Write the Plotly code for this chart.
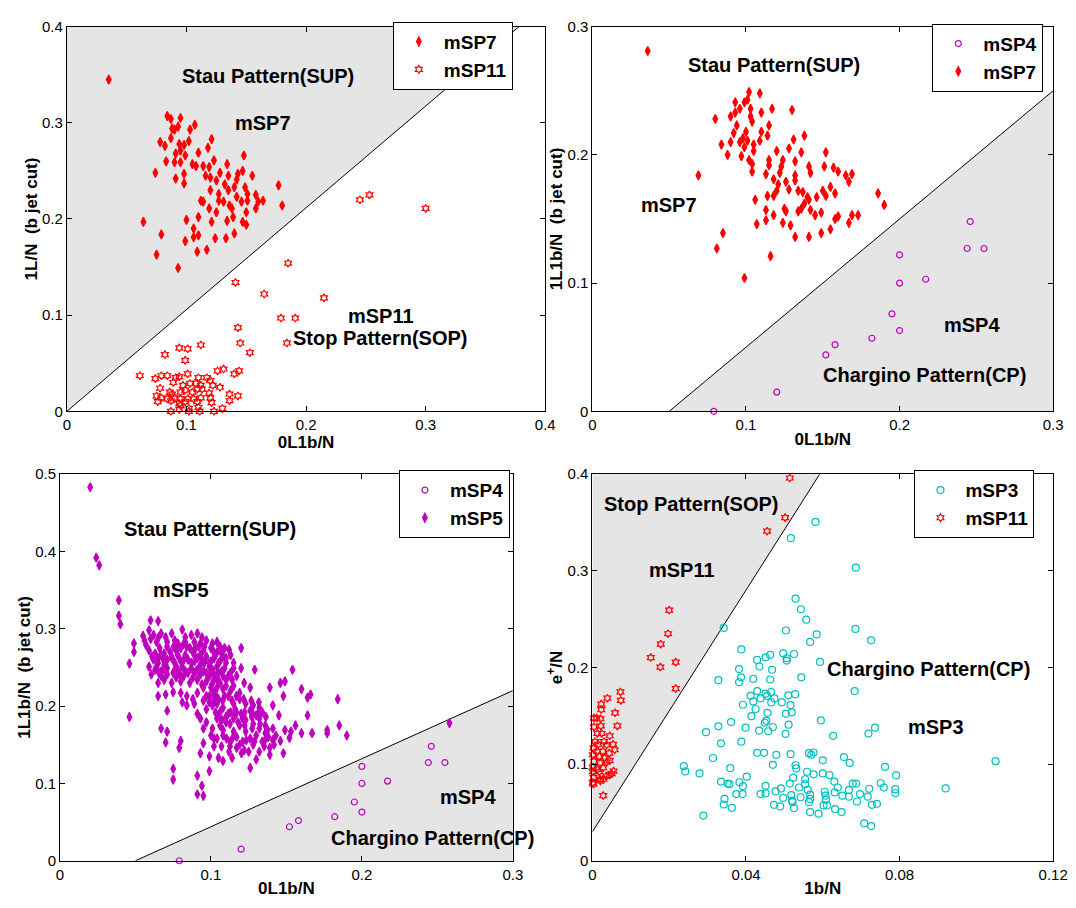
import plotly.graph_objects as go

# ---------------- data ----------------
# Panel 1: 0L1b/N vs 1L/N (b jet cut)
P1_MSP7 = [(.035,.345),(.084,.307),(.087,.304),(.095,.305),(.107,.298),(.088,.294),(.093,.296),(.103,.293),
           (.090,.293),(.121,.283),(.078,.280),(.087,.284),(.082,.276),(.094,.278),(.098,.277),(.102,.281),
           (.118,.274),(.095,.271),(.091,.268),(.099,.266),(.110,.269),(.148,.266),(.083,.260),(.090,.259),
           (.095,.259),(.105,.257),(.108,.255),(.114,.255),(.119,.254),(.123,.261),(.134,.257),(.074,.248),
           (.098,.247),(.091,.242),(.098,.237),(.116,.245),(.120,.243),(.128,.248),(.135,.245),(.143,.247),
           (.147,.250),(.155,.245),(.125,.240),(.132,.236),(.142,.241),(.120,.230),(.127,.226),(.135,.230),
           (.140,.233),(.149,.233),(.151,.226),(.158,.225),(.164,.219),(.177,.235),(.112,.219),(.114,.218),
           (.127,.219),(.131,.218),(.136,.214),(.142,.223),(.146,.218),(.151,.219),(.160,.218),(.119,.211),
           (.125,.207),(.138,.211),(.139,.202),(.150,.207),(.158,.211),(.180,.214),(.064,.197),(.100,.199),
           (.110,.202),(.121,.197),(.134,.198),(.147,.197),(.150,.194),(.106,.190),(.079,.184),(.110,.183),
           (.124,.180),(.133,.180),(.140,.185),(.106,.181),(.099,.177),(.109,.166),(.117,.168),(.075,.163),
           (.093,.149)]
P1_MSP11 = [(.245,.220),(.253,.225),(.300,.211),(.185,.154),(.141,.134),(.165,.122),(.215,.118),(.179,.097),
            (.191,.097),(.184,.071),
            (.143,.087),(.145,.071),(.153,.061),(.112,.069),(.094,.066),(.101,.065),(.082,.059),(.099,.053),
            (.061,.037),(.074,.034),(.079,.037),(.084,.037),(.091,.035),(.094,.036),(.101,.039),(.089,.030),
            (.110,.035),(.117,.035),(.120,.032),(.126,.042),(.131,.044),(.140,.039),(.144,.042),(.097,.027),
            (.103,.029),(.108,.029),(.112,.027),(.122,.027),(.128,.025),(.078,.024),(.086,.020),(.088,.018),
            (.095,.020),(.099,.022),(.105,.020),(.109,.023),(.113,.023),(.119,.019),(.075,.016),(.079,.014),
            (.084,.013),(.090,.014),(.095,.013),(.101,.013),(.106,.013),(.112,.014),(.120,.014),(.136,.018),
            (.143,.016),(.076,.010),(.087,.011),(.094,.008),(.099,.010),(.109,.010),(.121,.009),(.136,.011),
            (.095,.006),(.102,.003),(.110,.004),(.130,.003),(.087,.000),(.094,.002),(.102,.000),(.111,.000),
            (.123,.000)]

# Panel 2: 0L1b/N vs 1L1b/N (b jet cut)
P2_MSP7 = [(.036,.281),(.102,.249),(.109,.248),(.093,.241),(.101,.243),(.099,.241),(.096,.236),(.117,.236),
           (.130,.235),(.080,.228),(.090,.230),(.093,.233),(.103,.236),(.103,.230),(.110,.233),(.104,.226),
           (.094,.223),(.100,.218),(.092,.217),(.110,.218),(.115,.223),(.114,.215),(.084,.208),(.090,.210),
           (.096,.210),(.098,.213),(.101,.211),(.105,.208),(.109,.211),(.088,.200),(.097,.199),(.099,.206),
           (.105,.203),(.131,.212),(.138,.215),(.120,.203),(.128,.205),(.136,.202),(.102,.196),(.104,.193),
           (.104,.187),(.115,.196),(.115,.192),(.124,.196),(.123,.191),(.122,.186),(.113,.185),(.118,.181),
           (.132,.195),(.132,.184),(.141,.191),(.142,.186),(.151,.191),(.152,.202),(.157,.190),(.160,.187),
           (.165,.184),(.169,.185),(.167,.179),(.069,.184),(.121,.177),(.126,.179),(.128,.173),(.132,.180),
           (.120,.172),(.118,.168),(.134,.172),(.137,.171),(.140,.167),(.150,.172),(.155,.175),(.158,.170),
           (.114,.168),(.106,.165),(.138,.162),(.141,.165),(.146,.167),(.152,.168),(.136,.158),(.113,.157),
           (.118,.153),(.125,.158),(.126,.156),(.134,.156),(.142,.157),(.145,.153),(.149,.155),(.158,.150),
           (.160,.152),(.169,.153),(.173,.153),(.186,.170),(.190,.161),(.107,.146),(.113,.149),(.124,.147),
           (.129,.145),(.141,.136),(.132,.136),(.149,.139),(.155,.142),(.167,.147),(.085,.139),(.081,.127),
           (.116,.121),(.099,.104)]
MSP4 = [(.079,.000),(.120,.015),(.152,.044),(.158,.052),(.182,.057),(.195,.076),(.200,.063),(.200,.100),
        (.200,.122),(.217,.103),(.244,.127),(.246,.148),(.255,.127)]

# Panel 3: 0L1b/N vs 1L1b/N (b jet cut)
P3_MSP5 = [(.020,.483),(.024,.392),(.026,.382),(.039,.337),(.039,.317),(.040,.306),(.046,.255),(.046,.186),
           (.049,.281),(.049,.270),(.055,.291),(.060,.311),(.065,.310),
           (.056,.285),(.059,.298),(.062,.292),(.067,.294),(.070,.289),(.074,.294),(.076,.285),(.081,.299),
           (.083,.289),(.087,.292),(.091,.294),(.094,.289),(.097,.285),(.104,.283),(.109,.275),(.112,.273),
           (.120,.275),(.059,.272),(.063,.268),(.066,.275),(.069,.268),(.073,.270),(.077,.272),(.080,.275),
           (.084,.277),(.088,.270),(.092,.277),(.095,.272),(.100,.275),(.104,.270),(.107,.268),(.062,.260),
           (.065,.256),(.068,.262),(.071,.260),(.076,.256),(.079,.262),(.082,.260),(.087,.256),(.091,.262),
           (.094,.260),(.099,.256),(.102,.262),(.106,.258),(.110,.262),(.115,.256),(.120,.249),(.129,.247),
           (.059,.251),(.063,.247),(.067,.245),(.071,.249),(.075,.243),(.078,.247),(.083,.245),(.089,.243),
           (.092,.249),(.095,.245),(.101,.247),(.105,.243),(.109,.249),(.113,.243),(.117,.239),(.065,.230),
           (.069,.234),(.074,.230),(.077,.237),(.080,.232),(.086,.230),(.091,.234),(.094,.228),(.097,.232),
           (.102,.234),(.106,.230),(.110,.234),(.115,.226),(.122,.230),(.126,.224),(.139,.224),(.146,.230),
           (.149,.232),(.154,.247),(.065,.213),(.070,.215),(.075,.218),(.080,.217),(.084,.213),(.088,.209),
           (.091,.217),(.097,.213),(.102,.217),(.105,.209),(.109,.213),(.114,.207),(.119,.217),(.141,.201),
           (.148,.213),(.160,.222),(.164,.211),(.166,.215),(.184,.209),(.071,.194),(.081,.205),(.084,.201),
           (.089,.203),(.091,.190),(.097,.196),(.101,.201),(.103,.192),(.108,.198),(.113,.192),(.116,.196),
           (.120,.190),(.126,.194),(.130,.188),(.134,.192),(.145,.188),(.164,.188),(.067,.171),(.071,.167),
           (.070,.153),(.080,.155),(.079,.146),(.093,.184),(.095,.171),(.097,.179),(.101,.171),(.104,.184),
           (.106,.175),(.110,.179),(.115,.184),(.119,.175),(.123,.182),(.128,.177),(.132,.184),(.136,.175),
           (.141,.171),(.149,.169),(.153,.167),(.156,.175),(.160,.165),(.167,.165),(.177,.169),(.177,.165),
           (.100,.162),(.104,.158),(.108,.162),(.113,.154),(.117,.160),(.121,.154),(.126,.158),(.130,.162),
           (.134,.154),(.138,.160),(.141,.156),(.146,.155),(.152,.159),(.095,.152),(.102,.148),(.107,.148),
           (.112,.141),(.117,.146),(.122,.143),(.128,.150),(.132,.141),(.139,.146),(.093,.139),(.099,.135),
           (.105,.133),(.114,.133),(.125,.141),(.130,.131),(.139,.137),(.148,.139),(.108,.129),(.099,.116),
           (.075,.119),(.075,.105),(.091,.110),(.094,.097),(.091,.086),(.095,.084),(.126,.120),
           (.057,.279),(.064,.283),(.071,.283),(.078,.281),(.083,.283),(.089,.283),(.093,.281),(.101,.281),
           (.106,.277),(.061,.264),(.067,.266),(.074,.264),(.078,.266),(.083,.266),(.089,.266),(.093,.266),
           (.097,.264),(.103,.266),(.108,.264),(.113,.266),(.064,.251),(.069,.253),(.077,.251),(.081,.251),
           (.087,.249),(.093,.253),(.099,.251),(.104,.251),(.110,.256),(.115,.249),(.067,.239),(.071,.241),
           (.082,.239),(.088,.237),(.093,.241),(.099,.239),(.104,.237),(.108,.239),(.114,.234),(.100,.224),
           (.104,.224),(.108,.222),(.113,.220),(.095,.224),(.099,.205),(.104,.203),(.115,.203),(.119,.209),
           (.123,.203),(.128,.201),(.132,.198),(.105,.188),(.110,.186),(.116,.188),(.121,.184),(.127,.186),
           (.132,.171),(.123,.167),(.115,.167),(.108,.169),(.102,.158),(.119,.150),(.136,.165),(.143,.162),
           (.102,.209),(.095,.207),(.190,.162),(.185,.175),(.258,.178),
           (.0601,.287),(.0653,.289),(.0709,.277),(.0753,.277),(.0818,.280),(.0861,.275),(.0898,.275),
           (.0957,.277),(.1013,.272),(.0649,.262),(.0696,.258),(.0742,.262),(.0805,.256),(.0848,.260),
           (.0891,.258),(.0957,.256),(.1000,.258),(.1050,.256),(.0605,.241),(.0655,.243),(.0692,.247),
           (.0757,.245),(.0796,.241),(.0848,.243),(.0904,.246),(.0970,.243),(.1017,.243),(.1072,.245),
           (.1115,.239),(.1006,.228),(.1050,.230),(.1100,.226),(.0991,.213),(.1035,.213),(.1078,.207),
           (.1115,.213),(.1169,.213),(.1217,.209),(.1267,.207),(.1317,.205),(.1065,.194),(.1115,.190),
           (.1169,.192),(.1223,.192),(.1277,.190),(.1317,.192),(.1364,.186),(.1072,.182),(.1126,.177),
           (.1180,.179),(.1223,.175),(.1273,.171),(.1325,.177),(.1375,.169),(.1104,.158),(.1147,.160),
           (.1234,.156),(.1288,.154),(.1364,.158),(.1418,.150),(.1126,.148),(.1202,.139),(.1353,.148)]

# Panel 4: 1b/N vs e+/N
P4_MSP3 = [(.0581,.3506),(.0517,.3337),(.0686,.3032),(.0529,.2711),(.0543,.2602),(.0557,.2494),(.0504,.2382),
           (.0584,.2342),(.0567,.2264),(.0685,.2399),(.0726,.2281),(.0342,.2409),(.0388,.2186),(.0429,.2078),
           (.0435,.2010),(.0451,.2105),(.0463,.2129),(.0497,.2146),(.0506,.2095),(.0506,.2071),(.0525,.2139),
           (.0468,.1976),(.0593,.2057),(.0544,.1898),(.0382,.1983),(.0387,.1898),(.0382,.1848),(.0419,.1882),
           (.0463,.1875),(.0328,.1868),(.0683,.1756),(.0412,.1706),(.0429,.1756),(.0451,.1729),(.0465,.1746),
           (.0474,.1679),(.0419,.1648),(.0438,.1679),(.0455,.1706),(.0466,.1638),(.0493,.1638),(.0510,.1712),
           (.0528,.1723),(.0516,.1611),(.0392,.1614),(.0425,.1570),(.0456,.1530),(.0504,.1520),(.0519,.1536),
           (.0414,.1496),(.0453,.1448),(.0449,.1428),(.0470,.1384),(.0511,.1408),(.0434,.1347),(.0458,.1340),
           (.0503,.1313),(.0361,.1435),(.0399,.1377),(.0328,.1391),(.0296,.1330),(.0335,.1215),(.0388,.1232),
           (.0595,.1452),(.0627,.1293),(.0719,.1316),(.0736,.1377),(.0429,.1117),(.0447,.1117),(.0479,.1096),
           (.0516,.1103),(.0564,.1113),(.0576,.1120),(.0570,.1096),(.0600,.1039),(.0655,.1073),(.0670,.1012),
           (.0314,.1063),(.0359,.0958),(.0470,.0992),(.0529,.0988),(.0531,.0955),(.0559,.0921),(.0576,.0894),
           (.0600,.0904),(.0617,.0887),(.0762,.0971),(.0791,.0883),(.0238,.0978),(.0242,.0924),(.0279,.0904),
           (.0402,.0870),(.0335,.0819),(.0352,.0799),(.0357,.0792),(.0383,.0812),(.0392,.0772),(.0451,.0775),
           (.0523,.0860),(.0538,.0758),(.0514,.0799),(.0554,.0843),(.0554,.0792),(.0561,.0734),(.0630,.0819),
           (.0639,.0758),(.0678,.0799),(.0687,.0799),(.0721,.0745),(.0751,.0802),(.0759,.0758),(.0789,.0741),
           (.0789,.0701),(.0920,.0748),(.0375,.0690),(.0391,.0690),(.0438,.0690),(.0451,.0697),(.0477,.0717),
           (.0491,.0748),(.0497,.0650),(.0518,.0680),(.0520,.0623),(.0542,.0657),(.0567,.0684),(.0567,.0640),
           (.0605,.0714),(.0607,.0673),(.0631,.0707),(.0651,.0673),(.0668,.0663),(.0668,.0731),(.0697,.0690),
           (.0717,.0663),(.0344,.0640),(.0342,.0582),(.0363,.0548),(.0473,.0579),(.0489,.0562),(.0521,.0606),
           (.0525,.0545),(.0564,.0606),(.0567,.0504),(.0589,.0487),(.0602,.0572),(.0608,.0633),(.0611,.0572),
           (.0632,.0535),(.0649,.0504),(.0689,.0613),(.0728,.0579),(.0741,.0589),(.0289,.0467),(.0708,.0386),
           (.0726,.0359),(.1050,.1030)]
P4_MSP11 = [(.0514,.396),(.0502,.355),(.0455,.341),
            (.0200,.2593),(.0197,.2349),(.0178,.2241),(.0152,.2102),(.0177,.2004),(.0217,.2055),(.0217,.1781),
            (.0073,.1747),(.0074,.1659),(.0039,.1682),(.0023,.1621),(.0023,.1564),(.0059,.1530),(.0004,.1476),
            (.0011,.1476),(.0021,.1469),(.0022,.1395),(.0065,.1395),(.0004,.1385),(.0013,.1317),(.0024,.1317),
            (.0045,.1293),(.0007,.1232),(.0015,.1205),(.0030,.1232),(.0037,.1199),(.0054,.1205),(.0058,.1148),
            (.0003,.1165),(.0013,.1131),(.0027,.1131),(.0044,.1114),(.0001,.1097),(.0018,.1080),(.0032,.1063),
            (.0045,.1036),(.0004,.1029),(.0020,.1012),(.0037,.1022),(.0001,.0968),(.0013,.0945),(.0028,.0962),
            (.0001,.0921),(.0018,.0921),(.0050,.0901),(.0055,.0928),(.0003,.0860),(.0020,.0843),(.0037,.0877),
            (.0044,.0887),(.0001,.0809),(.0021,.0826),(.0028,.0843),(.0003,.0792),(.0028,.0674)]

# Pattern boundary lines (endpoints in data units)
P1_LINE = [(0.0, 0.0), (0.378, 0.4)]
P2_LINE = [(0.05, 0.0), (0.3, 0.25)]
P3_LINE = [(0.05, 0.0), (0.3, 0.22)]
P4_LINE = [(0.0, 0.03), (0.0592, 0.4)]

# Axis ticks
P1_XTICKS = [0, 0.1, 0.2, 0.3, 0.4]; P1_YTICKS = [0, 0.1, 0.2, 0.3, 0.4]
P2_XTICKS = [0, 0.1, 0.2, 0.3];      P2_YTICKS = [0, 0.1, 0.2, 0.3]
P3_XTICKS = [0, 0.1, 0.2, 0.3];      P3_YTICKS = [0, 0.1, 0.2, 0.3, 0.4, 0.5]
P4_XTICKS = [0, 0.04, 0.08, 0.12];   P4_YTICKS = [0, 0.1, 0.2, 0.3, 0.4]

# ---------------- styling ----------------
FONT = "Liberation Sans, Arial, sans-serif"
RED = "#ff0000"
MAG = "#bf00bf"
CYAN = "#00bfbf"
SHADE = "#e5e5e5"


def xs(p):
    return [a for a, b in p]


def ys(p):
    return [b for a, b in p]


def ticktext(v):
    return ["%g" % t for t in v]


fig = go.Figure()


def shade(axn, line, corner):
    pts_ = line + [corner, line[0]]
    fig.add_trace(go.Scatter(x=xs(pts_), y=ys(pts_), mode="lines",
                             fill="toself", fillcolor=SHADE, line=dict(width=0, color=SHADE),
                             showlegend=False, hoverinfo="skip", xaxis="x" + axn, yaxis="y" + axn))
    fig.add_trace(go.Scatter(x=xs(line), y=ys(line), mode="lines", line=dict(color="black", width=1),
                             showlegend=False, hoverinfo="skip", xaxis="x" + axn, yaxis="y" + axn))


def pts(axn, data, name, symbol, color, size, legend, lw=1.2):
    fig.add_trace(go.Scatter(x=xs(data), y=ys(data), mode="markers", name="<b>%s</b>" % name,
                             marker=dict(symbol=symbol, color=color, size=size,
                                         line=dict(color=color, width=lw)),
                             cliponaxis=False, xaxis="x" + axn, yaxis="y" + axn, legend=legend))


DIA = 6.5
DLW = 1.3
HEX = 6
# Panel 1
shade("", P1_LINE, (0.0, 0.4))
pts("", P1_MSP7, "mSP7", "diamond-tall", RED, DIA, "legend", DLW)
pts("", P1_MSP11, "mSP11", "hexagram-open", RED, HEX, "legend", 1.2)
# Panel 2
shade("2", P2_LINE, (0.3, 0.0))
pts("2", MSP4, "mSP4", "circle-open", MAG, 6, "legend2", 1.2)
pts("2", P2_MSP7, "mSP7", "diamond-tall", RED, DIA, "legend2", DLW)
# Panel 3
shade("3", P3_LINE, (0.3, 0.0))
pts("3", MSP4, "mSP4", "circle-open", MAG, 6, "legend3", 1.2)
pts("3", P3_MSP5, "mSP5", "diamond-tall", MAG, DIA, "legend3", DLW)
# Panel 4
shade("4", P4_LINE, (0.0, 0.4))
pts("4", P4_MSP3, "mSP3", "circle-open", CYAN, 7, "legend4", 1.2)
pts("4", P4_MSP11, "mSP11", "hexagram-open", RED, HEX, "legend4", 1.2)

W, H = 1076, 908


def dom(a, b):
    return [a / W, b / W]


def ydom(top, bottom):
    return [1 - bottom / H, 1 - top / H]


def axis(domain, rng, ticks, title, anchor):
    return dict(domain=domain, range=rng, tickvals=ticks, ticktext=ticktext(ticks),
                showline=True, linecolor="black", linewidth=1, mirror="ticks",
                ticks="inside", ticklen=5, tickcolor="black", showgrid=False, zeroline=False,
                tickfont=dict(family=FONT, size=15, color="black"),
                title=dict(text="<b>%s</b>" % title, font=dict(family=FONT, size=17, color="black"),
                           standoff=0),
                anchor=anchor)


lay = dict(width=W, height=H, margin=dict(l=0, r=0, t=0, b=0), plot_bgcolor="white",
           paper_bgcolor="white", font=dict(family=FONT, color="black"))
lay["xaxis"] = axis(dom(64, 551), [0, 0.4], P1_XTICKS, "0L1b/N", "y")
lay["yaxis"] = axis(ydom(18, 410), [0, 0.4], P1_YTICKS, "1L/N  (b jet cut)", "x")
lay["xaxis2"] = axis(dom(599, 1068), [0, 0.3], P2_XTICKS, "0L1b/N", "y2")
lay["yaxis2"] = axis(ydom(18, 410), [0, 0.3], P2_YTICKS, "1L1b/N  (b jet cut)", "x2")
lay["xaxis3"] = axis(dom(57, 518), [0, 0.3], P3_XTICKS, "0L1b/N", "y3")
lay["yaxis3"] = axis(ydom(474, 868), [0, 0.5], P3_YTICKS, "1L1b/N  (b jet cut)", "x3")
lay["xaxis4"] = axis(dom(599, 1068), [0, 0.12], P4_XTICKS, "1b/N", "y4")
lay["yaxis4"] = axis(ydom(474, 868), [0, 0.4], P4_YTICKS, "e<sup>+</sup>/N", "x4")


def legend(xr, yt):
    return dict(x=xr / W, y=1 - yt / H, xanchor="right", yanchor="top", bgcolor="white",
                bordercolor="black", borderwidth=1, font=dict(family=FONT, size=19, color="black"),
                itemsizing="trace", tracegroupgap=0, itemwidth=40)


lay["legend"] = legend(518, 13)
lay["legend2"] = legend(1058, 15)
lay["legend3"] = legend(515, 470)
lay["legend4"] = legend(1049, 470)

ANN = [("", "Stau Pattern(SUP)", .168, .349), ("", "mSP7", .164, .300), ("", "mSP11", .263, .099),
       ("", "Stop Pattern(SOP)", .262, .076),
       ("2", "Stau Pattern(SUP)", .118, .270), ("2", "mSP7", .050, .161), ("2", "mSP4", .247, .067),
       ("2", "Chargino Pattern(CP)", .216, .028),
       ("3", "Stau Pattern(SUP)", .0995, .429), ("3", "mSP5", .080, .350), ("3", "mSP4", .270, .082),
       ("3", "Chargino Pattern(CP)", .247, .029),
       ("4", "Stop Pattern(SOP)", .0258, .3695), ("4", "mSP11", .0233, .3005),
       ("4", "Chargino Pattern(CP)", .0875, .198), ("4", "mSP3", .0896, .138)]
lay["annotations"] = [dict(text="<b>%s</b>" % t, x=x, y=y, xref="x" + a, yref="y" + a, showarrow=False,
                           font=dict(family=FONT, size=20, color="black"))
                      for a, t, x, y in ANN]

fig.update_layout(**lay)
fig.write_html("out.html")
